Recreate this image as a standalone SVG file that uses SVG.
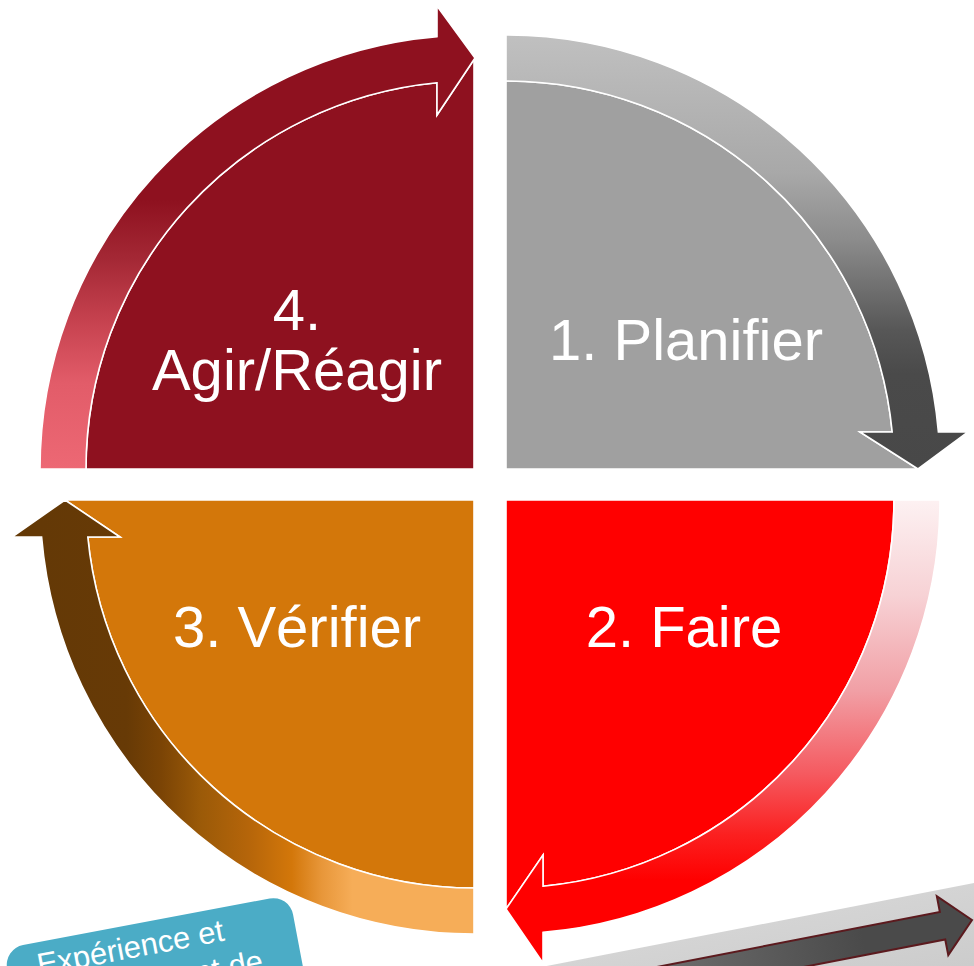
<svg xmlns="http://www.w3.org/2000/svg" width="974" height="966" viewBox="0 0 974 966">
<style>
.lbl{font-family:"Liberation Sans",Arial,sans-serif;font-size:58px;fill:#fff;text-anchor:middle}
.note{font-family:"Liberation Sans",Arial,sans-serif;font-size:31px;fill:#fff;text-anchor:middle}
.edge{stroke:#fff;stroke-width:1.6;stroke-linejoin:miter}
</style>
<defs>
<linearGradient id="g1" gradientUnits="userSpaceOnUse" x1="0" y1="35" x2="0" y2="469">
<stop offset="0" stop-color="#c0c0c0"/>
<stop offset="0.32" stop-color="#a8a8a8"/>
<stop offset="0.47" stop-color="#8c8c8c"/>
<stop offset="0.68" stop-color="#575757"/>
<stop offset="0.78" stop-color="#4a4a4a"/>
<stop offset="1" stop-color="#484848"/>
</linearGradient>
<linearGradient id="g4" gradientUnits="userSpaceOnUse" x1="0" y1="200" x2="0" y2="469">
<stop offset="0" stop-color="#8e111f"/>
<stop offset="0.22" stop-color="#a42835"/>
<stop offset="0.45" stop-color="#c6424f"/>
<stop offset="0.68" stop-color="#e25c69"/>
<stop offset="1" stop-color="#ed6874"/>
</linearGradient>
<linearGradient id="g2" gradientUnits="userSpaceOnUse" x1="0" y1="500" x2="0" y2="880">
<stop offset="0" stop-color="#fdf1f2"/>
<stop offset="0.25" stop-color="#f7d2d5"/>
<stop offset="0.5" stop-color="#f1a0a6"/>
<stop offset="0.72" stop-color="#f55a60"/>
<stop offset="0.88" stop-color="#fb2020"/>
<stop offset="1" stop-color="#ff0000"/>
</linearGradient>
<linearGradient id="g3" gradientUnits="userSpaceOnUse" x1="40" y1="0" x2="474" y2="0">
<stop offset="0" stop-color="#643906"/>
<stop offset="0.2" stop-color="#673a06"/>
<stop offset="0.28" stop-color="#7b4405"/>
<stop offset="0.37" stop-color="#9b5a08"/>
<stop offset="0.48" stop-color="#b5650a"/>
<stop offset="0.58" stop-color="#d3770a"/>
<stop offset="0.65" stop-color="#e8973a"/>
<stop offset="0.72" stop-color="#f6ad58"/>
<stop offset="1" stop-color="#f6ad58"/>
</linearGradient>
<linearGradient id="gband" x1="0" y1="0" x2="0" y2="1">
<stop offset="0" stop-color="#d4d4d4"/>
<stop offset="1" stop-color="#c0c0c0"/>
</linearGradient>
<linearGradient id="garrow" gradientUnits="userSpaceOnUse" x1="-320" y1="0" x2="-110" y2="0">
<stop offset="0" stop-color="#6e6e6e"/>
<stop offset="1" stop-color="#4a4a4a"/>
</linearGradient>
</defs>

<g id="node-planifier">
<path d="M506,469 V81 A388,388 0 0 1 892.2,432 L860,432 L918,469 Z" fill="#a0a0a0" class="edge"/>
<path d="M506,35 A434,434 0 0 1 938.4,432 L968,432 L918,469 L860,432 L892.2,432 A388,388 0 0 0 506,81 Z" fill="url(#g1)" class="edge"/>
<text class="lbl" x="686" y="360">1. Planifier</text>
</g>

<g id="node-faire">
<path d="M506,500 H894 A388,388 0 0 1 543,886.2 L543,855 L506,909 Z" fill="#ff0000" class="edge"/>
<path d="M940,500 A434,434 0 0 1 543,932.4 L543,963 L506,909 L543,855 L543,886.2 A388,388 0 0 0 894,500 Z" fill="url(#g2)" class="edge"/>
<text class="lbl" x="684" y="647">2. Faire</text>
</g>

<g id="node-verifier">
<path d="M474,500 V888 A388,388 0 0 1 87.8,537 L120,537 L65,500 Z" fill="#d3770a" class="edge"/>
<path d="M474,934 A434,434 0 0 1 41.6,537 L12,537 L65,500 L120,537 L87.8,537 A388,388 0 0 0 474,888 Z" fill="url(#g3)" class="edge"/>
<text class="lbl" x="297" y="647">3. Vérifier</text>
</g>

<g id="node-agir">
<path d="M474,469 H86 A388,388 0 0 1 437,82.8 L437,115 L475,58 L474,58 Z" fill="#8e111f" class="edge"/>
<path d="M40,469 A434,434 0 0 1 437,36.6 L437,6 L475,58 L437,115 L437,82.8 A388,388 0 0 0 86,469 Z" fill="url(#g4)" class="edge"/>
<text class="lbl" x="297" y="330">4.</text>
<text class="lbl" x="297" y="390">Agir/Réagir</text>
</g>

<g id="node-experience" transform="translate(3.4,948.8) rotate(-10.7)">
<rect x="0" y="0" width="291" height="130" rx="20" ry="20" fill="#4bacc6"/>
<text class="note" x="125" y="33">Expérience et</text>
<text class="note" x="125" y="70">développement de</text>
</g>

<g id="connectors" transform="translate(972,920) rotate(-11)">
<rect x="-520" y="-36" width="640" height="200" fill="url(#gband)"/>
<path d="M0,0 L-30,-30 L-30,-14 L-440,-14 L-440,14 L-30,14 L-30,30 Z" fill="url(#garrow)" stroke="#5c1a1e" stroke-width="2" stroke-linejoin="miter"/>
</g>
</svg>
